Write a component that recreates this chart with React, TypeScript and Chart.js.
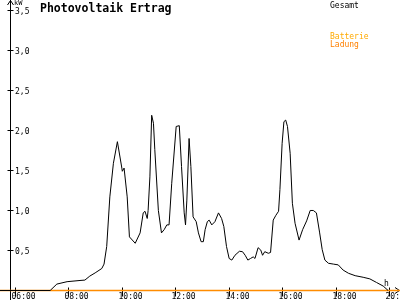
import React, { useEffect, useRef } from "react";
import { Chart, registerables } from "chart.js";

Chart.register(...registerables);

const times = ["05:00","07:19","07:34","07:57","08:26","08:37","08:48","09:00","09:15","09:20","09:26","09:33","09:41","09:50","10:00","10:01","10:05","10:12","10:17","10:30","10:41","10:48","10:52","10:57","10:59","11:03","11:07","11:11","11:14","11:22","11:29","11:35","11:41","11:46","11:52","12:02","12:09","12:14","12:20","12:23","12:26","12:31","12:35","12:40","12:47","12:52","12:58","13:03","13:07","13:12","13:16","13:22","13:29","13:37","13:44","13:49","13:55","14:01","14:07","14:14","14:24","14:31","14:37","14:43","14:49","14:55","14:59","15:06","15:12","15:16","15:21","15:29","15:34","15:40","15:46","15:52","15:55","16:00","16:04","16:08","16:12","16:18","16:23","16:29","16:38","16:46","16:55","17:03","17:10","17:17","17:24","17:30","17:36","17:44","17:55","18:06","18:17","18:29","18:44","19:02","19:17","19:32","19:47","19:58","20:00"];
const gesamt = [0,0,0.08,0.11,0.125,0.13,0.18,0.22,0.275,0.33,0.55,1.17,1.59,1.86,1.53,1.49,1.53,1.17,0.67,0.59,0.72,0.97,0.99,0.9,1.0,1.42,2.19,2.09,1.76,1.0,0.72,0.76,0.82,0.82,1.34,2.05,2.06,1.55,0.97,0.82,1.13,1.9,1.55,0.92,0.86,0.72,0.61,0.61,0.76,0.86,0.88,0.82,0.86,0.97,0.9,0.8,0.55,0.4,0.38,0.44,0.49,0.485,0.44,0.38,0.4,0.42,0.4,0.535,0.505,0.44,0.485,0.465,0.475,0.88,0.94,0.99,1.26,1.84,2.11,2.13,2.05,1.715,1.09,0.84,0.63,0.76,0.87,1.0,1.0,0.97,0.73,0.51,0.38,0.34,0.33,0.32,0.255,0.215,0.185,0.165,0.145,0.1,0.055,0,0];

const battTimes = ["05:00", "21:00"];
const batterieLadung = [0, 0];

const yTickValues = [0.5, 1, 1.5, 2, 2.5, 3, 3.5];
const yTickLabels = ["0,5", "1,0", "1,5", "2,0", "2,5", "3,0", "3,5"];
const xTickHours = [6, 8, 10, 12, 14, 16, 18, 20];
const xTickLabels = ["06:00", "08:00", "10:00", "12:00", "14:00", "16:00", "18:00", "20:00"];

const toHour = (t: string) => {
  const [h, m] = t.split(":").map(Number);
  return h + m / 60;
};

const MONO = '"DejaVu Sans Mono", monospace';

const axisPlugin = {
  id: "customAxes",
  beforeDatasetsDraw(chart: any) {
    const ctx = chart.ctx as CanvasRenderingContext2D;
    const xs = chart.scales.x;
    const ys = chart.scales.y;
    const y0 = Math.round(ys.getPixelForValue(0)) + 0.5;
    const xAxis = 10.5;
    ctx.save();
    ctx.strokeStyle = "#000";
    ctx.fillStyle = "#000";
    ctx.lineWidth = 1;
    // y axis
    ctx.beginPath();
    ctx.moveTo(xAxis, 0);
    ctx.lineTo(xAxis, 300);
    ctx.moveTo(xAxis, 0.5);
    ctx.lineTo(xAxis - 3, 5);
    ctx.moveTo(xAxis, 0.5);
    ctx.lineTo(xAxis + 3, 5);
    // x axis
    ctx.moveTo(0, y0);
    ctx.lineTo(400, y0);
    ctx.moveTo(399.5, y0);
    ctx.lineTo(395, y0 - 3);
    ctx.moveTo(399.5, y0);
    ctx.lineTo(395, y0 + 3);
    ctx.stroke();

    ctx.font = `8px ${MONO}`;
    ctx.textBaseline = "middle";
    ctx.textAlign = "left";
    yTickValues.forEach((v, i) => {
      const py = Math.round(ys.getPixelForValue(v)) + 0.5;
      ctx.beginPath();
      ctx.moveTo(xAxis - 3, py);
      ctx.lineTo(xAxis + 3, py);
      ctx.stroke();
      ctx.fillText(yTickLabels[i], 15, py + 1);
    });
    ctx.textBaseline = "top";
    xTickHours.forEach((h, i) => {
      const px = Math.round(xs.getPixelForValue(h)) + 0.5;
      ctx.beginPath();
      ctx.moveTo(px, y0 - 3);
      ctx.lineTo(px, y0 + 6);
      ctx.stroke();
      ctx.fillText(xTickLabels[i], px - 4, y0 + 2);
    });
    ctx.font = `7px ${MONO}`;
    ctx.fillText("kW", 14, 0);
    ctx.font = `8px ${MONO}`;
    ctx.textBaseline = "alphabetic";
    ctx.fillText("h", 384, y0 - 5);

    ctx.font = `bold 11.5px ${MONO}`;
    ctx.fillText("Photovoltaik Ertrag", 40, 12);

    ctx.font = `8px ${MONO}`;
    ctx.fillStyle = "#000";
    ctx.fillText("Gesamt", 330, 8);
    ctx.fillStyle = "#ffaa00";
    ctx.fillText("Batterie", 330, 39);
    ctx.fillStyle = "#ff8000";
    ctx.fillText("Ladung", 330, 47);
    ctx.restore();
  },
};

export default function App() {
  const ref = useRef<HTMLCanvasElement>(null);
  useEffect(() => {
    document.body.style.margin = "0";
    const chart = new Chart(ref.current!, {
      type: "line",
      data: {
        datasets: [
          {
            label: "Gesamt",
            data: times.map((t, i) => ({ x: toHour(t), y: gesamt[i] })),
            borderColor: "#000000",
            borderWidth: 1,
            pointRadius: 0,
            tension: 0,
            order: 1,
          },
          {
            label: "Batterie Ladung",
            data: battTimes.map((t, i) => ({ x: toHour(t), y: batterieLadung[i] })),
            borderColor: "#ff8c00",
            borderWidth: 1.5,
            pointRadius: 0,
            tension: 0,
            order: 2,
          },
        ],
      },
      options: {
        animation: false,
        responsive: false,
        maintainAspectRatio: false,
        layout: { padding: 0 },
        plugins: { legend: { display: false }, title: { display: false }, tooltip: { enabled: false } },
        scales: {
          x: { type: "linear", min: 5.4385, max: 20.412, display: false },
          y: { type: "linear", min: -0.119, max: 3.631, display: false },
        },
      },
      plugins: [axisPlugin],
    });
    return () => chart.destroy();
  }, []);
  return (
    <div style={{ width: 400, height: 300, background: "#fff" }}>
      <canvas ref={ref} width={400} height={300} />
    </div>
  );
}
